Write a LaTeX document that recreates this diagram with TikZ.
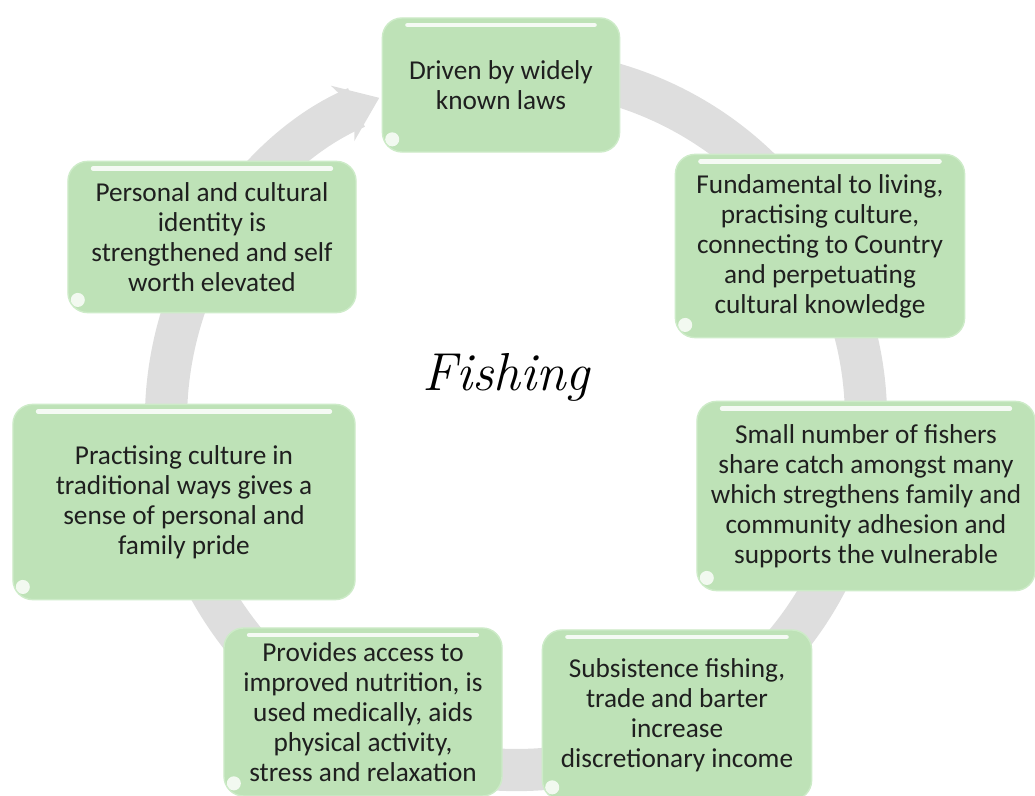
\documentclass[tikz,border=0pt]{standalone}
\usepackage{fontspec}
\usetikzlibrary{arrows.meta}
\newfontfamily\boxfont{Carlito}
\definecolor{boxgreen}{RGB}{190,226,183}
\definecolor{boxedge}{RGB}{205,235,200}
\definecolor{ringgrey}{RGB}{222,222,222}
\tikzset{
  box/.style={rounded corners=14pt, fill=boxgreen, draw=boxedge, line width=1pt,
    align=center, inner sep=3pt, text=black!88,
    font=\boxfont\fontsize{19.4}{21.3}\selectfont,
    path picture={
      \draw[white, line width=3.5pt, line cap=round, opacity=0.85]
        ([xshift=18pt,yshift=-5pt]path picture bounding box.north west) --
        ([xshift=-18pt,yshift=-5pt]path picture bounding box.north east);
      \fill[white, opacity=0.8]
        ([xshift=7pt,yshift=9pt]path picture bounding box.south west) circle [radius=5pt];
    }},
  ring/.style={ringgrey, line width=30pt, -{Stealth[length=28pt,width=42pt,inset=9pt]}}
}
\begin{document}
\begin{tikzpicture}[x=0.025cm,y=0.025cm]
  \useasboundingbox (0,0) rectangle (1035,796);

  % cycle ring behind the boxes
  \coordinate (ringc) at (516,376);
  \draw[ring] (ringc) ++(80:350) arc[start angle=80, end angle=-247, radius=350];

  \node[font=\itshape\fontsize{38}{40}\selectfont] (title) at (506,419) {Fishing};

  \node[box, minimum width=5.93cm, minimum height=3.35cm] (laws) at (501,711)
    {Driven by widely\\known laws};
  \node[box, minimum width=7.23cm, minimum height=4.58cm] (living) at (820,550)
    {Fundamental to living,\\practising culture,\\connecting to Country\\and perpetuating\\cultural knowledge};
  \node[box, minimum width=8.45cm, minimum height=4.73cm] (sharing) at (866,300)
    {Small number of fishers\\share catch amongst many\\which stregthens family and\\community adhesion and\\supports the vulnerable};
  \node[box, minimum width=6.73cm, minimum height=4.25cm] (income) at (677,81)
    {Subsistence fishing,\\trade and barter\\increase\\discretionary income};
  \node[box, minimum width=6.95cm, minimum height=4.2cm] (health) at (363,84)
    {Provides access to\\improved nutrition, is\\used medically, aids\\physical activity,\\stress and relaxation};
  \node[box, minimum width=8.55cm, minimum height=4.88cm] (pride) at (184,294)
    {Practising culture in\\traditional ways gives a\\sense of personal and\\family pride};
  \node[box, minimum width=7.2cm, minimum height=3.78cm] (identity) at (212,559)
    {Personal and cultural\\identity is\\strengthened and self\\worth elevated};
\end{tikzpicture}
\end{document}
